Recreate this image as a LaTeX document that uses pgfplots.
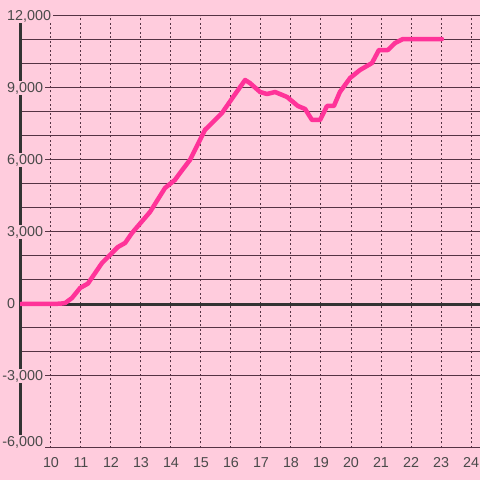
\documentclass[border=0pt]{standalone}
\usepackage{pgfplots}
\pgfplotsset{compat=1.18}
\usepackage{fontspec}
\setmainfont{Liberation Sans}
\definecolor{bgpink}{HTML}{FFCCDD}
\definecolor{gridc}{HTML}{553344}
\definecolor{axisc}{HTML}{333333}
\definecolor{textc}{HTML}{4A4A4A}
\definecolor{linepink}{HTML}{FF3399}
\pagecolor{bgpink}

\begin{document}
\begin{tikzpicture}
  \path (0,0) rectangle (480bp,480bp);
  \begin{axis}[
    set layers,
    at={(20bp,32bp)}, anchor=south west,
    scale only axis, width=460bp, height=432bp,
    xmin=8.967, xmax=24.3,
    ymin=-6000, ymax=12000,
    xtick={10,...,24},
    ytick={-3000,0,...,12000},
    scaled y ticks=false,
    extra y ticks={-6000},
    extra y tick style={yticklabel style={yshift=6bp}},
    minor y tick num=2,
    axis x line*=bottom, axis y line*=left,
    x axis line style={draw=gridc, line width=1bp},
    y axis line style={draw=axisc, line width=3bp},
    xmajorgrids, ymajorgrids, yminorgrids,
    major grid style={draw=gridc, line width=1bp},
    minor grid style={draw=gridc, line width=1bp},
    x grid style={draw=gridc, line width=1bp, dash pattern=on 2bp off 2.5bp},
    tick style={draw=none},
    /pgf/number format/assume math mode=true,
    /pgf/number format/1000 sep={,},
    ticklabel style={font=\fontsize{14.4}{17}\selectfont, text=textc},
    yticklabel={\ifdim\tick pt<0pt\llap{-}\pgfmathparse{abs(\tick)}\pgfmathprintnumber{\pgfmathresult}\else\pgfmathprintnumber{\tick}\fi},
    yticklabel style={fill=bgpink, inner sep=1.5bp, anchor=west, xshift=-14.5bp},
    xticklabel style={yshift=-6bp},
  ]
    \draw[axisc, line width=3bp] (rel axis cs:0,0.33333) -- (rel axis cs:1,0.33333);
    \addplot[linepink, line width=4.5bp, line join=round, line cap=round] coordinates {
      (9.0,0) (10.1,0) (10.35,20) (10.47,40) (10.7,250) (10.97,667)
      (11.23,850) (11.7,1708) (12.23,2375) (12.47,2542) (12.7,2958)
      (13.3,3833) (13.8,4833) (14.13,5167) (14.3,5458) (14.63,6000)
      (15.13,7250) (15.3,7458) (15.7,7958) (16.07,8625) (16.47,9333)
      (16.63,9208) (16.97,8833) (17.2,8750) (17.47,8833) (17.87,8625)
      (18.07,8417) (18.23,8250) (18.47,8125) (18.7,7667) (18.97,7667)
      (19.2,8250) (19.43,8250) (19.63,8833) (19.97,9417) (20.3,9750)
      (20.7,10040) (20.93,10583) (21.23,10583) (21.47,10875) (21.73,11040)
      (23.03,11040)
    };
  \end{axis}
  \pgfresetboundingbox
  \path (0,0) rectangle (480bp,480bp);
\end{tikzpicture}
\end{document}
